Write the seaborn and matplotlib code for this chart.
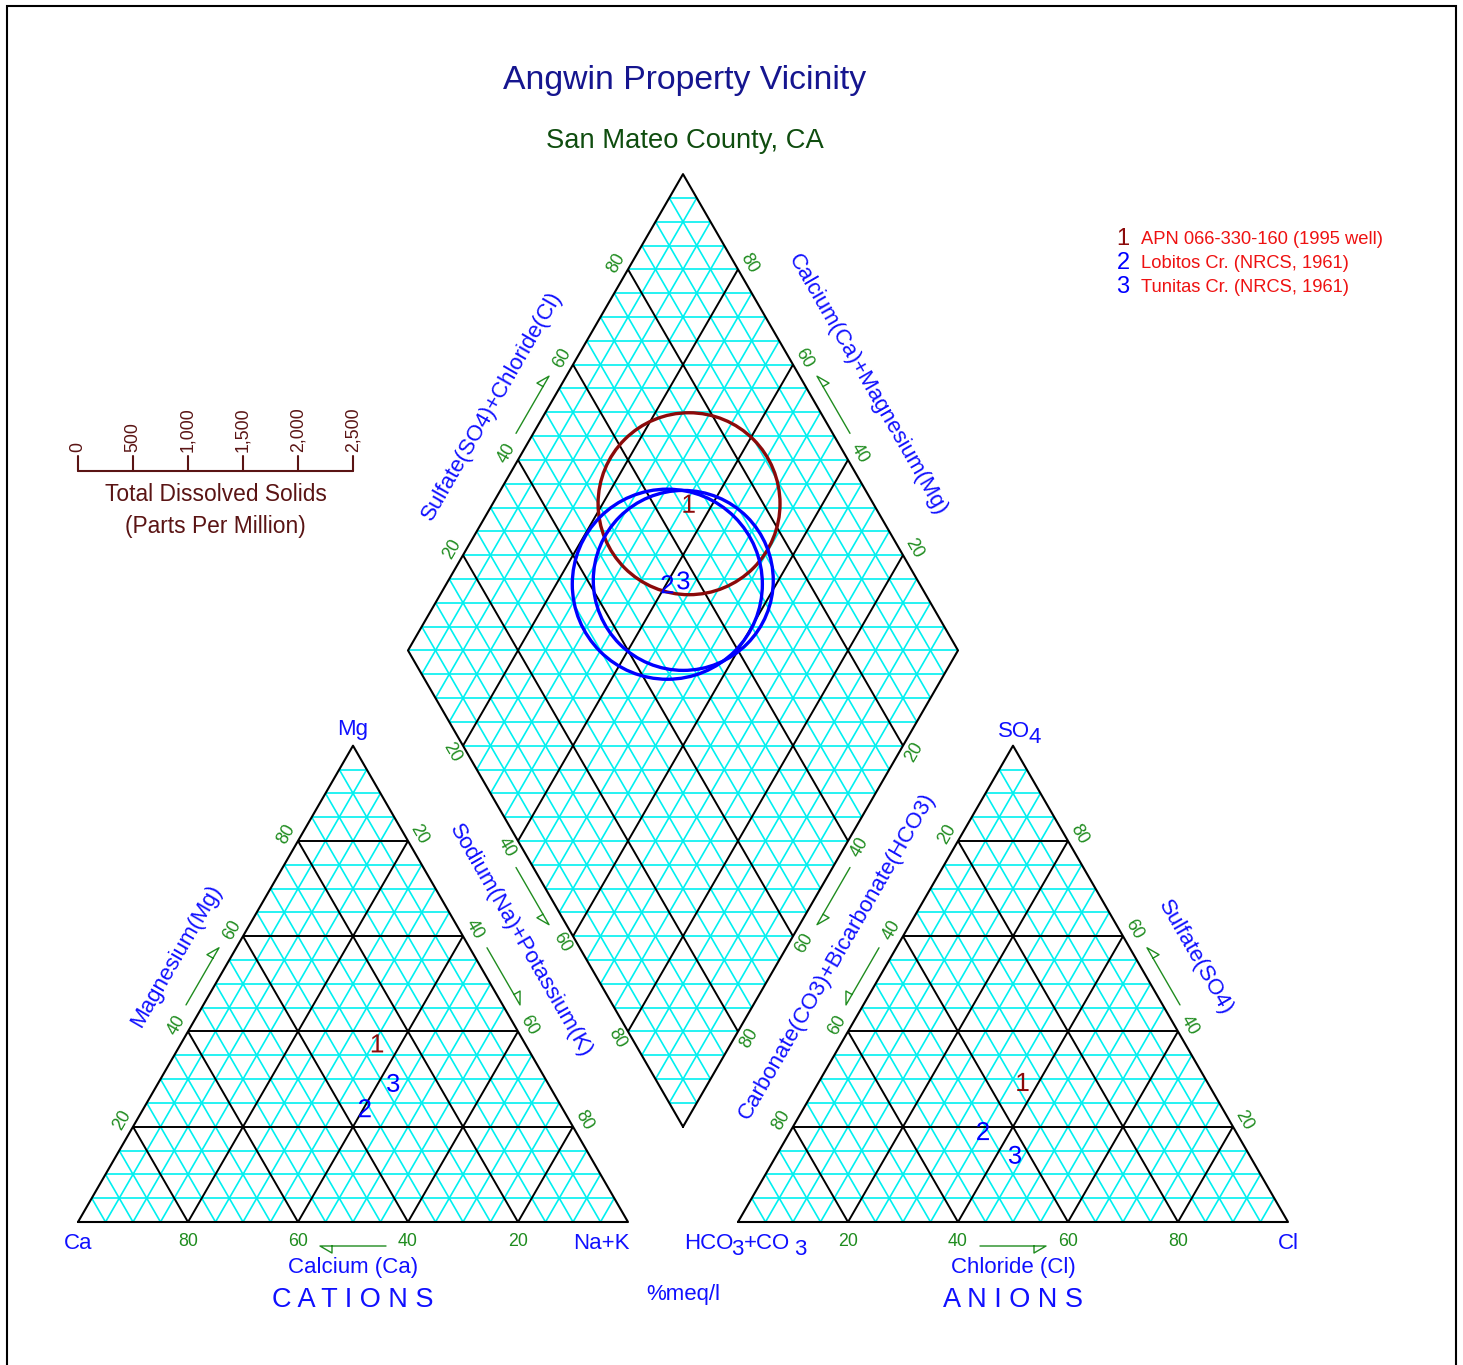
import numpy as np
import pandas as pd
import matplotlib
matplotlib.use("Agg")
import matplotlib.pyplot as plt
from matplotlib.collections import LineCollection
from matplotlib.patches import Circle, Rectangle
import seaborn as sns

# samples, % meq/l
samples = ['1', '2', '3']
sample_names = ['APN 066-330-160 (1995 well)', 'Lobitos Cr. (NRCS, 1961)', 'Tunitas Cr. (NRCS, 1961)']
ca = [26.8, 35.9, 28.1]
mg = [37.5, 23.9, 29.2]
nak = [35.7, 40.2, 42.7]
hco3 = [33.5, 45.9, 42.6]
so4 = [29.4, 19.1, 14.1]
cl = [37.1, 35.0, 43.3]
tds = [827, 864, 818]  # ppm
sample_colors = ['#8b0a0a', '#0000ff', '#0000ff']

pct_ticks = [20, 40, 60, 80]
tds_ticks = [0, 500, 1000, 1500, 2000, 2500]
tds_labels = ['0', '500', '1,000', '1,500', '2,000', '2,500']

sns.set_theme(style='white')
plt.rcParams['font.family'] = ['Liberation Sans', 'DejaVu Sans']
plt.rcParams['mathtext.default'] = 'regular'

H = np.sqrt(3) / 2
PX = 1 / 5.5          # one pixel in plot units (triangle side 100 = 550 px)
PT = 72 / 100         # one pixel in points
GAP = 20
AX0 = 100 + GAP       # anion triangle origin
BX, BY = 100 + GAP / 2, GAP * H   # bottom of diamond
TDS_SCALE = 50 / 2500

CYAN = '#00f0f0'
GREEN = '#1f8c1f'
BLUE = '#1010ff'
TDS_COL = '#5a1414'


def tri_xy(right, top, ox):
    return (ox + right + top / 2, top * H)


def dia_xy(a, b):
    # a = Ca+Mg, b = SO4+Cl
    return (BX + (b - a) / 2, BY + (a + b) * H)


fig = plt.figure(figsize=(14.63, 13.65), dpi=100)
ax = fig.add_axes([0, 0, 1, 1])
ax.axis('off')


def tri_grid(ox):
    fine, bold = [], []
    for k in range(5, 100, 5):
        segs = [[(ox + k / 2, k * H), (ox + 100 - k / 2, k * H)],
                [(ox + k, 0), (ox + k + (100 - k) / 2, (100 - k) * H)],
                [(ox + 100 - k, 0), (ox + (100 - k) / 2, (100 - k) * H)]]
        (bold if k % 20 == 0 else fine).extend(segs)
    ax.add_collection(LineCollection(fine, colors=CYAN, lw=1.2, zorder=1))
    ax.add_collection(LineCollection(bold, colors='black', lw=1.4, zorder=2))
    ax.plot([ox, ox + 100, ox + 50, ox], [0, 0, 100 * H, 0], color='black', lw=1.5, zorder=3)


def diamond_grid():
    fine, bold = [], []
    for k in range(5, 100, 5):
        segs = [[dia_xy(k, 0), dia_xy(k, 100)], [dia_xy(0, k), dia_xy(100, k)]]
        (bold if k % 20 == 0 else fine).extend(segs)
    for m in range(5, 200, 5):
        w = min(m, 200 - m) / 2
        fine.append([(BX - w, BY + m * H), (BX + w, BY + m * H)])
    ax.add_collection(LineCollection(fine, colors=CYAN, lw=1.2, zorder=1))
    ax.add_collection(LineCollection(bold, colors='black', lw=1.4, zorder=2))
    pts = [dia_xy(0, 0), dia_xy(0, 100), dia_xy(100, 100), dia_xy(100, 0), dia_xy(0, 0)]
    ax.plot([p[0] for p in pts], [p[1] for p in pts], color='black', lw=1.5, zorder=3)


tri_grid(0)
tri_grid(AX0)
diamond_grid()

# outward normals (data coords, y up)
N_UL = np.array([-H, 0.5]); N_UR = np.array([H, 0.5])
N_LL = np.array([-H, -0.5]); N_LR = np.array([H, -0.5]); N_B = np.array([0, -1.0])

# each axis: value->point, normal, rotation, title, title offset px, shift px (upward along edge)
axes_def = [
    (lambda v: (100 - v, 0), N_B, 0, None, 0, 0),                                 # Ca
    (lambda v: tri_xy(0, v, 0), N_UL, 60, 'Magnesium(Mg)', 48, 5),                # Mg
    (lambda v: tri_xy(v, 100 - v, 0), N_UR, -60, 'Sodium(Na)+Potassium(K)', 47.6, 22),
    (lambda v: (AX0 + v, 0), N_B, 0, None, 0, 0),                                  # Cl
    (lambda v: tri_xy(0, 100 - v, AX0), N_UL, 60, 'Carbonate(CO3)+Bicarbonate(HCO3)', 47.6, 5),
    (lambda v: tri_xy(100 - v, v, AX0), N_UR, -60, 'Sulfate(SO4)', 52, 0),
    (lambda v: dia_xy(100, v), N_UL, 60, 'Sulfate(SO4)+Chloride(Cl)', 50, -21),
    (lambda v: dia_xy(v, 100), N_UR, -60, 'Calcium(Ca)+Magnesium(Mg)', 54, 0),
    (lambda v: dia_xy(100 - v, 0), N_LL, -60, None, 0, 0),
    (lambda v: dia_xy(0, 100 - v), N_LR, 60, None, 0, 0),
]

for f, n, rot, title, toff, shift in axes_def:
    dist = 19 if rot == 0 else 13
    for v in pct_ticks:
        p = np.array(f(v)) + n * dist * PX
        ax.text(p[0], p[1], str(v), color=GREEN, fontsize=12.8, rotation=rot,
                rotation_mode='anchor', ha='center', va='center', zorder=5)
    # direction arrow with half head
    p0 = np.array(f(44)); p1 = np.array(f(56))
    d = (p1 - p0) / np.linalg.norm(p1 - p0)
    off = (24 if rot == 0 else 15) * PX
    s = p0 + n * off; t = p1 + n * off
    base = t - d * 12 * PX
    corner = base + n * 7 * PX
    ax.plot([s[0], t[0], corner[0], base[0]], [s[1], t[1], corner[1], base[1]],
            color=GREEN, lw=1.0, zorder=5)
    if title:
        m = np.array(f(50)) + n * toff * PX
        along = d if d[1] > 0 else -d
        m = m + along * shift * PX
        ax.text(m[0], m[1], title, color=BLUE, fontsize=16, rotation=rot,
                rotation_mode='anchor', ha='center', va='center', zorder=5)


def sub_label(x, y, parts):
    # parts: list of (text, is_subscript); subscripts are full size, lowered
    prev = ax.text(x, y, parts[0][0], color=BLUE, fontsize=16, ha='left', va='baseline')
    low = parts[0][1]
    for txt, is_sub in parts[1:]:
        dy = 0
        if is_sub and not low:
            dy = -6 * PT
        elif low and not is_sub:
            dy = 6 * PT
        if txt.startswith(' '):
            dx = 3 * PT
        elif is_sub:
            dx = -1.5
        else:
            dx = 0.5
        prev = ax.annotate(txt.strip(), xy=(1, 0), xycoords=prev, xytext=(dx, dy),
                           textcoords='offset points', color=BLUE, fontsize=16,
                           ha='left', va='bottom')
        low = is_sub


# corner and bottom labels
ax.text(0, -27 * PX, 'Ca', color=BLUE, fontsize=16, ha='center', va='baseline')
ax.text(100 + 2 * PX, -27 * PX, 'Na+K', color=BLUE, fontsize=16, ha='right', va='baseline')
ax.text(50, 100 * H + 11 * PX, 'Mg', color=BLUE, fontsize=16, ha='center', va='baseline')
sub_label(AX0 - 54 * PX, -27 * PX, [('HCO', False), ('3', True), ('+CO', False), (' 3', True)])
ax.text(AX0 + 100, -27 * PX, 'Cl', color=BLUE, fontsize=16, ha='center', va='baseline')
sub_label(AX0 + 50 - 15 * PX, 100 * H + 9 * PX, [('SO', False), ('4', True)])
ax.text(50, -45.5 * PX, 'Calcium (Ca)', color=BLUE, fontsize=16, ha='center', va='center')
ax.text(AX0 + 50, -45.5 * PX, 'Chloride (Cl)', color=BLUE, fontsize=16, ha='center', va='center')
ax.text(50, -78 * PX, 'C A T I O N S', color=BLUE, fontsize=19.5, ha='center', va='center')
ax.text(AX0 + 50, -78 * PX, 'A N I O N S', color=BLUE, fontsize=19.5, ha='center', va='center')
ax.text(BX, -72.5 * PX, '%meq/l', color=BLUE, fontsize=16, ha='center', va='center')

# sample markers
rows = []
for i, s in enumerate(samples):
    rows.append((s,) + tri_xy(nak[i], mg[i], 0))
    rows.append((s,) + tri_xy(cl[i], so4[i], AX0))
    rows.append((s,) + dia_xy(ca[i] + mg[i], so4[i] + cl[i]))
df = pd.DataFrame(rows, columns=['sample', 'x', 'y'])
sns.scatterplot(data=df, x='x', y='y', hue='sample', style='sample',
                markers={s: f'${s}$' for s in samples},
                palette=dict(zip(samples, sample_colors)),
                s=170, linewidth=0, legend=False, ax=ax, zorder=7)

# TDS circles
for i, s in enumerate(samples):
    c = dia_xy(ca[i] + mg[i], so4[i] + cl[i])
    ax.add_patch(Circle(c, tds[i] * TDS_SCALE, fill=False, ec=sample_colors[i], lw=2.4, zorder=6))

# TDS scale
ty = (1222 - 471) * PX
ax.plot([0, tds_ticks[-1] * TDS_SCALE], [ty, ty], color=TDS_COL, lw=1.5)
for t, lab in zip(tds_ticks, tds_labels):
    x = t * TDS_SCALE
    ax.plot([x, x], [ty, ty + 15 * PX], color=TDS_COL, lw=1.5)
    ax.text(x, ty + 19 * PX, lab, color=TDS_COL, fontsize=12.8, rotation=90, ha='center', va='bottom')
ax.text(25, ty - 23 * PX, 'Total Dissolved Solids', color=TDS_COL, fontsize=16.4, ha='center', va='center')
ax.text(25, ty - 56 * PX, '(Parts Per Million)', color=TDS_COL, fontsize=16.4, ha='center', va='center')

# legend
lx, ly = (1123 - 78) * PX, (1222 - 239) * PX
for i, s in enumerate(samples):
    y = ly - i * 24 * PX
    ax.text(lx, y, s, color=sample_colors[i], fontsize=17, ha='center', va='center')
    ax.text(lx + 18 * PX, y, sample_names[i], color='#ee1111', fontsize=13.2, ha='left', va='center')

# titles
ax.text((685 - 78) * PX, (1222 - 81) * PX, 'Angwin Property Vicinity', color='#15158f',
        fontsize=24.3, ha='center', va='center')
ax.text((685 - 78) * PX, (1222 - 141) * PX, 'San Mateo County, CA', color='#0f4d0f',
        fontsize=19.7, ha='center', va='center')

ax.set_xlim(-78 * PX, (1463 - 78) * PX)
ax.set_ylim(-(1365 - 1222) * PX, 1222 * PX)

fig.patches.append(Rectangle((7 / 1463, -0.01), 1449 / 1463, 1.01 - 5.5 / 1365,
                             transform=fig.transFigure, fill=False, ec='black', lw=1.5))

fig.savefig('out.png', dpi=100)
